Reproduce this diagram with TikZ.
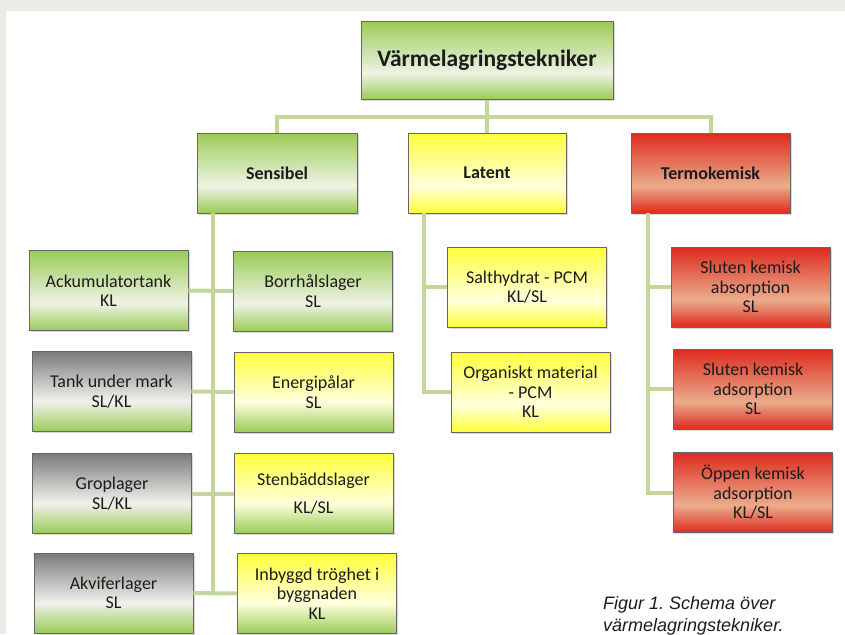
\documentclass[tikz,border=0pt]{standalone}
\usepackage{fontspec}
\setmainfont{Carlito}
\newfontfamily\captionfont{Liberation Sans}
\usepackage{tikz}
\usetikzlibrary{calc,positioning,shadows}
\definecolor{pageGrey}{HTML}{ECECE6}
\definecolor{boxGreen}{HTML}{9ACB58}
\definecolor{paleGreen}{HTML}{EEF3E4}
\definecolor{boxGrey}{HTML}{7A7A7A}
\definecolor{paleGrey}{HTML}{F0F1EC}
\definecolor{boxYellow}{HTML}{FFFF3C}
\definecolor{paleYellow}{HTML}{FFFFDC}
\definecolor{boxRed}{HTML}{DD2A1E}
\definecolor{paleRed}{HTML}{EBAC8C}
\definecolor{linkGreen}{HTML}{C3D69B}
\definecolor{textGrey}{HTML}{1C1C1C}
\pgfdeclareverticalshading{greenfade}{100bp}{color(0bp)=(boxGreen); color(25bp)=(boxGreen); color(42bp)=(paleGreen); color(75bp)=(boxGreen); color(100bp)=(boxGreen)}
\pgfdeclareverticalshading{greygreenfade}{100bp}{color(0bp)=(boxGreen); color(25bp)=(boxGreen); color(44bp)=(paleGrey); color(75bp)=(boxGrey); color(100bp)=(boxGrey)}
\pgfdeclareverticalshading{yellowfade}{100bp}{color(0bp)=(boxYellow); color(25bp)=(boxYellow); color(42bp)=(paleYellow); color(75bp)=(boxYellow); color(100bp)=(boxYellow)}
\pgfdeclareverticalshading{yellowgreenfade}{100bp}{color(0bp)=(boxGreen); color(25bp)=(boxGreen); color(44bp)=(paleYellow); color(75bp)=(boxYellow); color(100bp)=(boxYellow)}
\pgfdeclareverticalshading{redfade}{100bp}{color(0bp)=(boxRed); color(25bp)=(boxRed); color(42bp)=(paleRed); color(75bp)=(boxRed); color(100bp)=(boxRed)}
\tikzstyle{box} = [rectangle, draw=black!60, line width=0.7pt, inner sep=0pt, align=center, text=textGrey, minimum width=159pt, minimum height=80pt, font=\fontsize{18}{19.5}\selectfont, drop shadow={shadow xshift=1.5pt, shadow yshift=-1.5pt, opacity=0.3}]
\tikzstyle{green} = [box, shading=greenfade]
\tikzstyle{greygreen} = [box, shading=greygreenfade]
\tikzstyle{yellow} = [box, shading=yellowfade]
\tikzstyle{yellowgreen} = [box, shading=yellowgreenfade]
\tikzstyle{red} = [box, shading=redfade]
\tikzstyle{group} = [font=\bfseries\fontsize{18}{20}\selectfont]
\tikzstyle{connector} = [line width=4pt, draw=linkGreen]
\begin{document}
\frenchspacing
\begin{tikzpicture}[x=1pt, y=-1pt]
        \useasboundingbox (0,0) rectangle (845,634);
        \fill [pageGrey] (0,0) rectangle (845,634);
        \fill [white] (6,11) rectangle (845,634);
        \node (title) [green, minimum width=252pt, minimum height=78pt, font=\bfseries\fontsize{23.5}{26}\selectfont] at (487,60.5) {Värmelagringstekniker};
        \node (sensibel) [green, group, minimum width=160pt] at (277,173) {Sensibel};
        \node (latent) [yellow, group, minimum width=158pt] at (487,173) {Latent};
        \node (termokemisk) [red, group] at (710.5,173) {Termokemisk};
        \node (ackumulator) [green] at (108.5,290.5) {Ackumulatortank\\KL};
        \node (tank) [greygreen] at (111.5,391.5) {Tank under mark\\SL/KL};
        \node (groplager) [greygreen] at (112,493.5) {Groplager\\SL/KL};
        \node (akvifer) [greygreen] at (113.5,593) {Akviferlager\\SL};
        \node (borrhal) [green] at (313,291) {Borrhålslager\\SL};
        \node (energipalar) [yellowgreen] at (313.5,392) {Energipålar\\SL};
        \node (stenbadd) [yellowgreen] at (313.5,493.5) {Stenbäddslager\\[8pt]KL/SL};
        \node (inbyggd) [yellowgreen] at (317,593.5) {Inbyggd tröghet i\\byggnaden\\KL};
        \node (salthydrat) [yellow] at (527,287) {Salthydrat - PCM\\KL/SL};
        \node (organiskt) [yellow] at (530.5,392) {Organiskt material\\- PCM\\KL};
        \node (absorption) [red] at (750.5,287) {Sluten kemisk\\absorption\\SL};
        \node (adsorption) [red] at (753,389) {Sluten kemisk\\adsorption\\SL};
        \node (oppen) [red] at (753,492.5) {Öppen kemisk\\adsorption\\KL/SL};
        \node (caption) [anchor=north west, align=left, inner sep=0pt, font=\captionfont\itshape\fontsize{18}{22}\selectfont, text=textGrey] at (603,596) {Figur 1. Schema över\\värmelagringstekniker.};
        \coordinate (bus) at (487,117);
        \coordinate (sensibel-trunk) at ([xshift=16pt]sensibel.south west);
        \coordinate (latent-trunk) at ([xshift=16pt]latent.south west);
        \coordinate (termokemisk-trunk) at ([xshift=17pt]termokemisk.south west);
        \draw [connector] (title) -- (latent);
        \draw [connector] (sensibel.north) |- (bus) -| (termokemisk.north);
        \draw [connector] (sensibel-trunk) -- (sensibel-trunk |- akvifer.east);
        \draw [connector] (ackumulator) -- (borrhal);
        \draw [connector] (tank) -- (energipalar);
        \draw [connector] (groplager) -- (stenbadd);
        \draw [connector] (akvifer) -- (inbyggd);
        \draw [connector] (latent-trunk) |- (salthydrat.west);
        \draw [connector] (latent-trunk) |- (organiskt.west);
        \draw [connector] (termokemisk-trunk) |- (absorption.west);
        \draw [connector] (termokemisk-trunk) |- (adsorption.west);
        \draw [connector] (termokemisk-trunk) |- (oppen.west);
    \end{tikzpicture}
\end{document}
